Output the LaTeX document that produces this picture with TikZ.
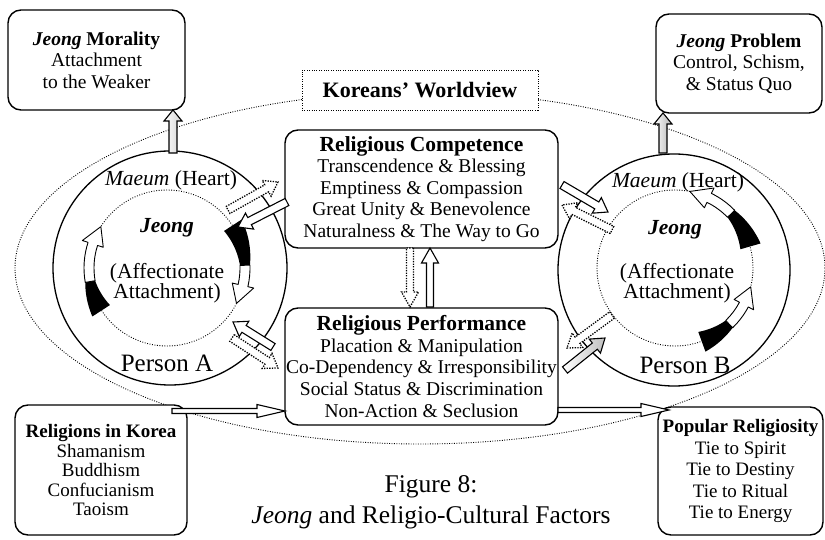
\documentclass[tikz,border=0pt]{standalone}
\usepackage{fontspec}
\setmainfont{Liberation Serif}
\usetikzlibrary{calc}

\newcommand{\bxfont}{\fontsize{19.5}{21.6}\selectfont}
\newcommand{\ttlfont}{\fontsize{21.5}{21.6}\selectfont\bfseries}
\newcommand{\crfont}{\fontsize{21.5}{20.5}\selectfont}

% hollow block arrow between two points: [style]{from}{to}{half shaft}{half head}{head length}
\newcommand{\blockarrow}[6][]{%
  \draw[#1] ($(#2)!#4!90:(#3)$) -- ($(#3)!#6!(#2)!#4!-90:(#2)$)
    -- ($(#3)!#6!(#2)!#5!-90:(#2)$) -- (#3)
    -- ($(#3)!#6!(#2)!#5!90:(#2)$) -- ($(#3)!#6!(#2)!#4!90:(#2)$)
    -- ($(#2)!#4!-90:(#3)$) -- cycle;}

% curved ribbon arrow around a centre: {centre}{radius}{tail}{end of dark part}{head base}{tip}
\newcommand{\ribbon}[6]{%
  \begin{scope}[shift={#1}]
    \fill plot[domain=#3:#4, samples=14, smooth]
        (\x:{#2+11-6*(\x-(#3))/((#4)-(#3))})
      -- plot[domain=#4:#3, samples=14, smooth]
        (\x:{#2-5-5*(\x-(#4))/((#3)-(#4))}) -- cycle;
    \draw[fill=white, line width=0.9pt, line join=round]
      (#4:{#2+5}) arc[start angle=#4, end angle=#5, radius=#2+5]
      -- (#5:{#2+11}) -- (#6:{#2}) -- (#5:{#2-11}) -- (#5:{#2-5})
      arc[start angle=#5, end angle=#4, radius=#2-5] -- cycle;
  \end{scope}}

\begin{document}
\begin{tikzpicture}[x=1pt, y=1pt,
  every node/.style={inner sep=0pt, outer sep=0pt},
  rbox/.style={draw, line width=1.4pt, rounded corners=13pt, fill=white,
    align=center, font=\bxfont},
  dotline/.style={line width=0.9pt, dash pattern=on 0.9pt off 1.5pt},
  ring/.style={circle, draw, line width=1.3pt},
  inring/.style={circle, draw, line width=0.9pt, dash pattern=on 0.9pt off 1.6pt},
  solidarr/.style={line width=1.1pt, fill=white, line join=miter},
  dotarr/.style={line width=1.3pt, dash pattern=on 1.3pt off 1.3pt, fill=white},
  ctext/.style={font=\crfont, align=center}]

\useasboundingbox (0,0) rectangle (825,539);

% the worldview boundary
\draw[dotline] (420,271) ellipse [x radius=405, y radius=176];

% the two persons
\node[ring, minimum size=234pt] (lout) at (170,271) {};
\node[inring, minimum size=156pt] (lin) at (167,271) {};
\node[ring, minimum size=232pt] (rout) at (674,269) {};
\node[inring, minimum size=156pt] (rin) at (675,271) {};

% boxes
\node[rbox, minimum width=177pt, minimum height=100pt] (moral) at (96.5,479)
  {\textbf{\textit{Jeong} Morality}\\Attachment\\to the Weaker};
\node[rbox, minimum width=166pt, minimum height=99pt] (problem) at (739,475.5)
  {\textbf{\textit{Jeong} Problem}\\Control, Schism,\\\& Status Quo};
\node[draw, dotline, fill=white, minimum width=236pt, minimum height=40pt,
  font=\fontsize{22}{24}\selectfont\bfseries] (world) at (420,449)
  {Koreans’ Worldview};
\node[rbox, minimum width=273pt, minimum height=118pt] (comp) at (421.5,350)
  {{\ttlfont Religious Competence}\\Transcendence \& Blessing\\Emptiness \& Compassion\\
   Great Unity \& Benevolence\\Naturalness \& The Way to Go};
\node[rbox, minimum width=273pt, minimum height=117pt] (perf) at (421.5,172.5)
  {{\ttlfont Religious Performance}\\Placation \& Manipulation\\
   Co-Dependency \& Irresponsibility\\Social Status \& Discrimination\\
   Non-Action \& Seclusion};
\node[rbox, font=\fontsize{19}{19.5}\selectfont, minimum width=172pt,
  minimum height=130pt] (relig) at (101,69)
  {\textbf{Religions in Korea}\\Shamanism\\Buddhism\\Confucianism\\Taoism};
\node[rbox, font=\fontsize{19}{21.5}\selectfont, minimum width=165pt,
  minimum height=128pt] (popular) at (740.5,68)
  {\textbf{Popular Religiosity}\\Tie to Spirit\\Tie to Destiny\\Tie to Ritual\\Tie to Energy};

% texts inside the persons
\node[ctext] (lmaeum) at (171,359) {\textit{Maeum} (Heart)};
\node[ctext] (ljeong) at (167,311) {\textbf{\textit{Jeong}}};
\node[ctext] (laff) at (167,256) {(Affectionate\\Attachment)};
\node[font=\fontsize{25}{28}\selectfont] (lperson) at (167,176) {Person A};
\node[ctext] (rmaeum) at (678,357) {\textit{Maeum} (Heart)};
\node[ctext] (rjeong) at (675,309) {\textbf{\textit{Jeong}}};
\node[ctext] (raff) at (677,256) {(Affectionate\\Attachment)};
\node[font=\fontsize{25}{28}\selectfont] (rperson) at (685,174) {Person B};

% circulation of jeong
\ribbon{(167,271)}{78}{33}{2}{-13}{-27}
\ribbon{(167,271)}{78}{213}{190}{162}{148}
\ribbon{(675,271)}{78}{16}{44}{64}{79}
\ribbon{(675,271)}{78}{-70}{-46}{-28}{-14}

% arrow end points
\coordinate (lup0) at (173,386);  \coordinate (lup1) at (173,429);
\coordinate (rup0) at (663,386);  \coordinate (rup1) at (663,426);
\coordinate (lt0) at (287,337);   \coordinate (lt1) at (238,312);
\coordinate (ltd0) at (228,329);  \coordinate (ltd1) at (278,357);
\coordinate (lb0) at (273,192);   \coordinate (lb1) at (233,217);
\coordinate (lbd0) at (232,201);  \coordinate (lbd1) at (278,171);
\coordinate (rt0) at (562,354);   \coordinate (rt1) at (608,327);
\coordinate (rtd0) at (612,309);  \coordinate (rtd1) at (562,334);
\coordinate (rb0) at (565,169);   \coordinate (rb1) at (605,201);
\coordinate (rbd0) at (612,224);  \coordinate (rbd1) at (567,191);
\coordinate (cu0) at (430,232);   \coordinate (cu1) at (430,291);
\coordinate (cd0) at (410,291);   \coordinate (cd1) at (410,232);
\coordinate (h10) at (172,128);   \coordinate (h11) at (285,128);
\coordinate (h20) at (558,129);   \coordinate (h21) at (669,129);

% person to morality / problem
\blockarrow[solidarr, left color=white, right color=gray!35]{lup0}{lup1}{4pt}{9pt}{11pt}
\blockarrow[solidarr, left color=white, right color=gray!60]{rup0}{rup1}{4pt}{9pt}{11pt}

% exchanges with competence and performance
\blockarrow[dotarr]{ltd0}{ltd1}{4pt}{9pt}{13pt}
\blockarrow[solidarr]{lt0}{lt1}{4pt}{9pt}{13pt}
\blockarrow[dotarr]{lbd0}{lbd1}{4pt}{9pt}{13pt}
\blockarrow[solidarr]{lb0}{lb1}{4pt}{9pt}{13pt}
\blockarrow[dotarr]{rtd0}{rtd1}{4pt}{9pt}{13pt}
\blockarrow[solidarr]{rt0}{rt1}{4pt}{9pt}{13pt}
\blockarrow[dotarr]{rbd0}{rbd1}{4pt}{9pt}{13pt}
\blockarrow[solidarr, left color=white, right color=gray!50]{rb0}{rb1}{4pt}{9pt}{13pt}

% performance and competence
\blockarrow[dotarr]{cd0}{cd1}{3.5pt}{8.5pt}{15pt}
\blockarrow[solidarr]{cu0}{cu1}{3.5pt}{8.5pt}{15pt}

% religions to performance to popular religiosity
\blockarrow[solidarr]{h10}{h11}{2.5pt}{6.5pt}{28pt}
\blockarrow[solidarr]{h20}{h21}{2.5pt}{6.5pt}{28pt}

% caption
\node[font=\fontsize{25.5}{31}\selectfont, align=center] (caption) at (431,37)
  {Figure 8:\\\textit{Jeong} and Religio-Cultural Factors};
\end{tikzpicture}
\end{document}
